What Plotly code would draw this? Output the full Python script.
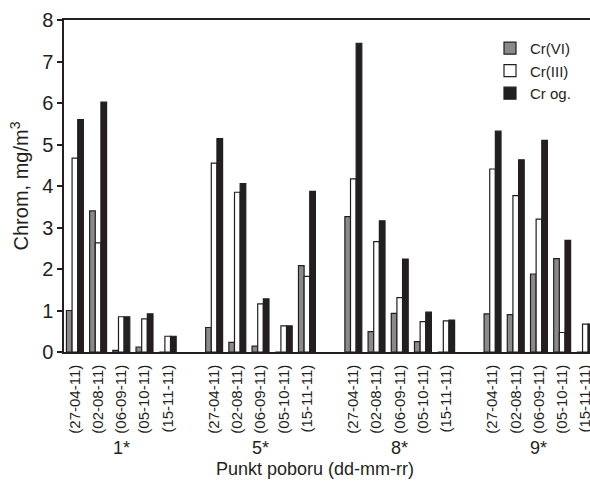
import plotly.graph_objects as go

groups = ["1*", "5*", "8*", "9*"]
dates = ["(27-04-11)", "(02-08-11)", "(06-09-11)", "(05-10-11)", "(15-11-11)"]

cr6 = [1.00, 3.40, 0.04, 0.12, 0.00,
       0.59, 0.23, 0.14, 0.00, 2.08,
       3.26, 0.49, 0.93, 0.25, 0.00,
       0.92, 0.90, 1.88, 2.25, 0.00]
cr3 = [4.67, 2.63, 0.85, 0.80, 0.38,
       4.55, 3.85, 1.16, 0.63, 1.82,
       4.17, 2.66, 1.31, 0.73, 0.75,
       4.41, 3.77, 3.20, 0.47, 0.67]
crog = [5.60, 6.02, 0.85, 0.92, 0.38,
        5.14, 4.06, 1.28, 0.63, 3.87,
        7.44, 3.16, 2.24, 0.96, 0.77,
        5.32, 4.63, 5.10, 2.69, 0.67]

# slot position: each group has 5 dates plus one empty slot
xpos = [g * 6 + d for g in range(len(groups)) for d in range(len(dates))]
ticktext = [dt for g in groups for dt in dates]
group_centers = [g * 6 + 2 for g in range(len(groups))]

FONT = "Liberation Sans, Arial, sans-serif"
fig = go.Figure()
fig.add_trace(go.Bar(x=xpos, y=cr6, name="Cr(VI)",
                     marker=dict(color="#8a8a8a", line=dict(color="#231f20", width=1.2))))
fig.add_trace(go.Bar(x=xpos, y=cr3, name="Cr(III)",
                     marker=dict(color="#ffffff", line=dict(color="#231f20", width=1.2))))
fig.add_trace(go.Bar(x=xpos, y=crog, name="Cr og.",
                     marker=dict(color="#231f20", line=dict(color="#231f20", width=1.2))))

annotations = []
for gc, gname in zip(group_centers, groups):
    annotations.append(dict(x=gc, y=0, xref="x", yref="paper", text=gname,
                            showarrow=False, yanchor="middle", yshift=-96,
                            font=dict(size=18, color="#231f20", family=FONT)))
annotations.append(dict(x=(315 - 64) / 526, y=0, xref="paper", yref="paper",
                        text="Punkt poboru (dd-mm-rr)", showarrow=False,
                        yanchor="middle", yshift=-117,
                        font=dict(size=18, color="#231f20", family=FONT)))

fig.update_layout(
    width=590, height=485,
    margin=dict(l=64, r=0, t=20, b=133),
    paper_bgcolor="white", plot_bgcolor="white",
    barmode="group", bargap=0.27, bargroupgap=0,
    font=dict(family=FONT, color="#231f20"),
    showlegend=True,
    legend=dict(x=(490 - 64) / 526, y=0.964, xanchor="left", yanchor="top",
                font=dict(size=15, color="#231f20", family=FONT),
                bgcolor="rgba(0,0,0,0)", tracegroupgap=0),
    annotations=annotations,
    xaxis=dict(range=[-0.47, 22.2], tickmode="array", tickvals=xpos,
               ticktext=ticktext, tickangle=-90, ticks="", automargin=False,
               ticklabelstandoff=5, ticklabeloverflow="allow",
               tickfont=dict(size=15, color="#231f20", family=FONT),
               showline=True, linecolor="#231f20", linewidth=1.5, mirror=True,
               showgrid=False, zeroline=False),
    yaxis=dict(range=[0, 8], dtick=1, ticks="outside", ticklen=5,
               tickwidth=1.5, tickcolor="#231f20", automargin=False,
               tickfont=dict(size=20, color="#231f20", family=FONT),
               showline=True, linecolor="#231f20", linewidth=1.5,
               showgrid=False, zeroline=False,
               title=dict(text="Chrom, mg/m<sup>3</sup>", standoff=8,
                          font=dict(size=20, color="#231f20", family=FONT))),
)

fig.write_html(
    "out.html",
    config={"displayModeBar": False},
    post_script="document.body.style.margin='0';document.body.style.overflow='hidden';",
)
